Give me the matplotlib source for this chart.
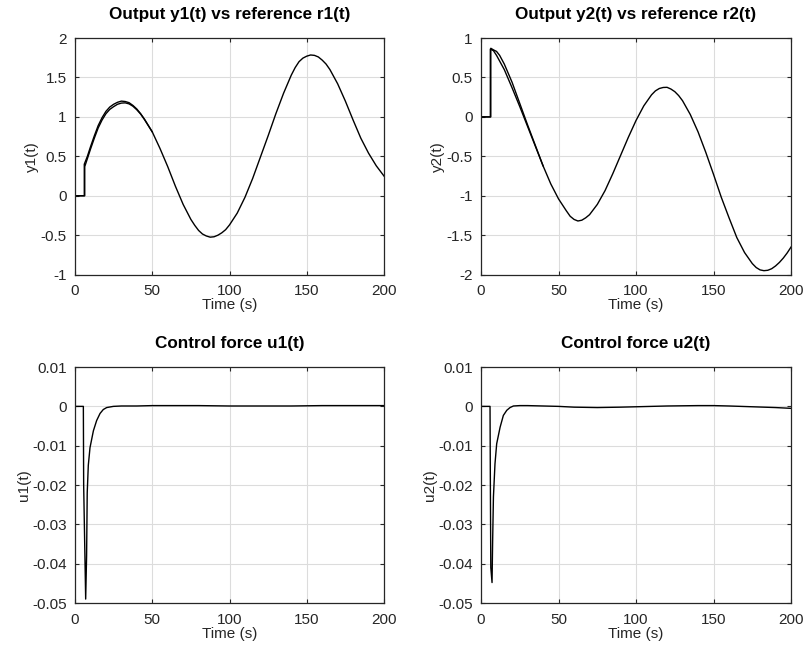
import numpy as np
import matplotlib
matplotlib.use('Agg')
import matplotlib.pyplot as plt

# font close to MATLAB's Helvetica
plt.rcParams['font.family'] = ['Liberation Sans', 'DejaVu Sans']
plt.rcParams['font.size'] = 11

#################################################################
# DATA
#################################################################

# output 1 / reference 1
t_r1 = [0, 6, 6, 8, 10, 12.5, 15, 17.5, 20, 22.5, 25, 27.5, 30, 32.5, 35, 37.5, 40, 42.5, 45, 50, 55, 60,
        65, 70, 75, 77.5, 80, 82.5, 85, 87.5, 90, 92.5, 95, 97.5, 100, 105, 110, 115, 120, 125, 130, 135,
        140, 142.5, 145, 147.5, 150, 152.5, 155, 157.5, 160, 162.5, 165, 170, 175, 180, 185, 190, 195, 200]
r1 = [0, 0, 0.40, 0.50, 0.62, 0.76, 0.89, 0.99, 1.07, 1.125, 1.16, 1.185, 1.20, 1.195, 1.18, 1.145, 1.10,
      1.04, 0.97, 0.81, 0.60, 0.37, 0.12, -0.11, -0.30, -0.375, -0.44, -0.485, -0.51, -0.525, -0.52, -0.50,
      -0.47, -0.43, -0.37, -0.22, -0.02, 0.22, 0.49, 0.76, 1.04, 1.30, 1.53, 1.625, 1.70, 1.745, 1.77,
      1.785, 1.78, 1.76, 1.72, 1.67, 1.60, 1.42, 1.20, 0.96, 0.73, 0.54, 0.38, 0.25]
t_y1 = [0, 6.3, 6.3, 8, 10, 12.5, 15, 17.5, 20, 22.5, 25, 27.5, 30, 32.5, 35, 37.5, 40, 42.5, 45, 50]
y1 = [0, 0, 0.37, 0.47, 0.59, 0.73, 0.86, 0.96, 1.04, 1.095, 1.13, 1.16, 1.175, 1.178, 1.165, 1.135, 1.09,
      1.035, 0.965, 0.81]

# output 2 / reference 2
t_r2 = [0, 6, 6, 8, 10, 15, 20, 25, 30, 35, 40, 45, 50, 55, 57.5, 60, 62.5, 65, 67.5, 70, 75, 80, 85, 90,
        95, 100, 105, 110, 112.5, 115, 117.5, 120, 122.5, 125, 127.5, 130, 135, 140, 145, 150, 155, 160,
        165, 170, 175, 177.5, 180, 182.5, 185, 187.5, 190, 192.5, 195, 197.5, 200]
r2 = [0, 0, 0.86, 0.84, 0.78, 0.60, 0.37, 0.13, -0.12, -0.37, -0.62, -0.85, -1.04, -1.19, -1.26, -1.30,
      -1.32, -1.31, -1.28, -1.24, -1.11, -0.935, -0.72, -0.49, -0.26, -0.045, 0.14, 0.28, 0.33, 0.36,
      0.373, 0.375, 0.353, 0.32, 0.27, 0.205, 0.03, -0.19, -0.45, -0.73, -1.02, -1.28, -1.53, -1.72,
      -1.86, -1.91, -1.94, -1.95, -1.945, -1.925, -1.89, -1.845, -1.79, -1.725, -1.65]
t_y2 = [0, 6.3, 6.3, 8, 10, 12, 15, 20, 25, 30, 35, 40]
y2 = [0, 0, 0.87, 0.85, 0.83, 0.78, 0.67, 0.44, 0.17, -0.10, -0.36, -0.62]

# control forces
t_u1 = [0, 5.4, 5.6, 6.9, 7.5, 7.9, 8.6, 9.7, 11.9, 14, 16.2, 18.3, 20.5, 24.8, 30, 40, 50, 60, 80, 100,
        120, 140, 160, 180, 200]
u1 = [0, 0, -0.02, -0.049, -0.038, -0.022, -0.015, -0.0105, -0.0062, -0.0036, -0.0018, -0.0008, -0.0003,
      0.0, 0.0001, 0.0001, 0.0002, 0.0002, 0.0002, 0.0001, 0.0001, 0.0001, 0.0002, 0.0002, 0.0002]
t_u2 = [0, 5.8, 6.0, 6.3, 7.1, 7.5, 8.0, 9.0, 10.1, 12.3, 14.4, 16.6, 18.7, 20.9, 25, 30, 40, 50, 60, 75,
        90, 100, 120, 140, 150, 160, 175, 190, 200]
u2 = [0, 0, -0.018, -0.041, -0.0448, -0.034, -0.023, -0.0146, -0.0095, -0.0053, -0.0023, -0.001, -0.0003,
      0.0001, 0.0002, 0.0002, 0.0001, 0.0, -0.0002, -0.0003, -0.0002, -0.0001, 0.0001, 0.0002, 0.0002,
      0.0001, -0.0001, -0.0003, -0.0005]

titles = ['Output y1(t) vs reference r1(t)', 'Output y2(t) vs reference r2(t)',
          'Control force u1(t)', 'Control force u2(t)']
ylabels = ['y1(t)', 'y2(t)', 'u1(t)', 'u2(t)']
xticks = [0, 50, 100, 150, 200]
yticks = [[-1, -0.5, 0, 0.5, 1, 1.5, 2],
          [-2, -1.5, -1, -0.5, 0, 0.5, 1],
          [-0.05, -0.04, -0.03, -0.02, -0.01, 0, 0.01],
          [-0.05, -0.04, -0.03, -0.02, -0.01, 0, 0.01]]
ytick_labels = [['-1', '-0.5', '0', '0.5', '1', '1.5', '2'],
                ['-2', '-1.5', '-1', '-0.5', '0', '0.5', '1'],
                ['-0.05', '-0.04', '-0.03', '-0.02', '-0.01', '0', '0.01'],
                ['-0.05', '-0.04', '-0.03', '-0.02', '-0.01', '0', '0.01']]

#################################################################
# PLOT
#################################################################

fig = plt.figure(figsize=(8.04, 6.5), dpi=100)
fig.patch.set_facecolor('white')

# axes boxes in figure fractions (left, bottom, width, height)
boxes = [[0.0933, 0.5775, 0.3843, 0.364],
         [0.5983, 0.5775, 0.3856, 0.364],
         [0.0933, 0.0723, 0.3843, 0.363],
         [0.5983, 0.0723, 0.3856, 0.363]]

axes = [fig.add_axes(b) for b in boxes]

axes[0].plot(t_r1, r1, color='black', lw=1.0)
axes[0].plot(t_y1, y1, color='black', lw=1.0)
axes[1].plot(t_r2, r2, color='black', lw=1.0)
axes[1].plot(t_y2, y2, color='black', lw=1.0)
axes[2].plot(t_u1, u1, color='black', lw=1.0)
axes[3].plot(t_u2, u2, color='black', lw=1.0)

dark = '#262626'
for i, ax in enumerate(axes):
    ax.set_xlim(0, 200)
    ax.set_ylim(yticks[i][0], yticks[i][-1])
    ax.set_xticks(xticks)
    ax.set_yticks(yticks[i])
    ax.set_yticklabels(ytick_labels[i])
    ax.grid(True, color='#dcdcdc', lw=0.8)
    ax.set_axisbelow(True)
    ax.tick_params(direction='in', length=3, width=0.8, colors=dark, labelsize=11,
                   top=True, right=True)
    ax.tick_params(axis='x', pad=7)
    ax.tick_params(axis='y', pad=6)
    for s in ax.spines.values():
        s.set_color(dark)
        s.set_linewidth(0.9)
    ax.set_title(titles[i], fontsize=12.3, fontweight='bold', color='black', pad=14)
    ax.set_xlabel('Time (s)', fontsize=11, color=dark, labelpad=0)
    ax.set_ylabel(ylabels[i], fontsize=11, color=dark, labelpad=1)

fig.savefig('out.png', dpi=100, facecolor='white')
